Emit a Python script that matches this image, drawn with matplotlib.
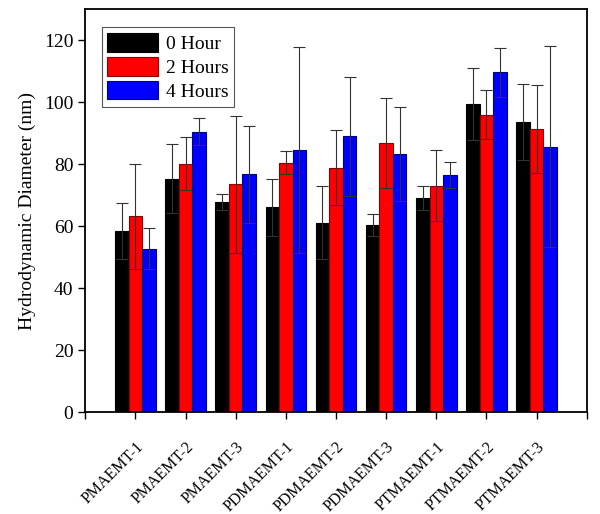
import numpy as np
import matplotlib.pyplot as plt
import matplotlib.transforms as mtransforms

plt.rcParams['font.family'] = ['Liberation Serif', 'DejaVu Serif']

samples = ['PMAEMT-1', 'PMAEMT-2', 'PMAEMT-3', 'PDMAEMT-1', 'PDMAEMT-2',
           'PDMAEMT-3', 'PTMAEMT-1', 'PTMAEMT-2', 'PTMAEMT-3']

# mean diameters (nm)
h0 = [58.4, 75.4, 67.8, 66.2, 61.2, 60.5, 69.1, 99.4, 93.6]
h2 = [63.2, 80.2, 73.5, 80.5, 78.8, 86.8, 73.1, 96.0, 91.4]
h4 = [52.8, 90.5, 76.8, 84.6, 89.0, 83.4, 76.5, 109.6, 85.6]

# standard deviations
e0 = [9.0, 11.0, 2.5, 9.2, 11.7, 3.5, 3.9, 11.5, 12.3]
e2 = [17.0, 8.6, 22.0, 3.8, 12.1, 14.6, 11.4, 8.0, 14.3]
e4 = [6.7, 4.4, 15.6, 33.2, 19.3, 15.2, 4.1, 7.8, 32.4]

x = np.arange(1, len(samples) + 1)
w = 0.27

fig = plt.figure(figsize=(6.0, 5.14), dpi=100)
ax = fig.add_axes([0.142, 0.198, 0.836, 0.784])

err_kw = dict(ecolor='#333333', elinewidth=0.8, capsize=4, capthick=0.8)
ax.bar(x - w, h0, w, yerr=e0, color='black', edgecolor='black', linewidth=0.8,
       label='0 Hour', error_kw=err_kw)
ax.bar(x, h2, w, yerr=e2, color='#ff0000', edgecolor='#8b0000', linewidth=0.8,
       label='2 Hours', error_kw=err_kw)
ax.bar(x + w, h4, w, yerr=e4, color='#0000ff', edgecolor='#000080', linewidth=0.8,
       label='4 Hours', error_kw=err_kw)

ax.set_xlim(0, 10)
ax.set_ylim(0, 130)
ax.set_xticks(np.arange(0, 11))
ax.set_xticklabels([''] + samples + [''], rotation=45, ha='right',
                   rotation_mode='anchor', fontsize=11.5)
# nudge rotated labels left so their ends sit under the ticks
shift = mtransforms.ScaledTranslation(-6 / 72, 0, fig.dpi_scale_trans)
for lab in ax.get_xticklabels():
    lab.set_transform(lab.get_transform() + shift)
ax.set_yticks(np.arange(0, 121, 20))
ax.tick_params(axis='y', labelsize=14, direction='out', length=5, width=1)
ax.tick_params(axis='x', direction='out', length=5, width=1, pad=14)
ax.set_ylabel('Hydrodynamic Diameter (nm)', fontsize=14, labelpad=6)

for s in ax.spines.values():
    s.set_linewidth(1.3)

leg = ax.legend(loc='upper left', bbox_to_anchor=(0.025, 0.965), fontsize=14,
                fancybox=False, edgecolor='#555555', framealpha=1,
                handlelength=2.6, handleheight=1.1, borderpad=0.3,
                labelspacing=0.2, handletextpad=0.4, borderaxespad=0.2)
leg.get_frame().set_linewidth(0.8)

fig.savefig('out.png', dpi=100)
